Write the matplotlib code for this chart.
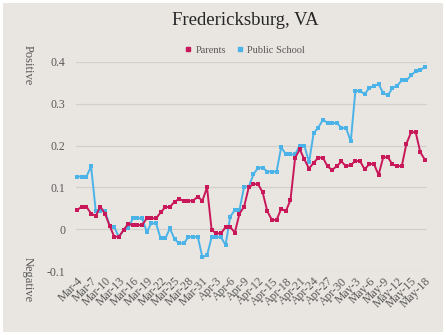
import numpy as np
import matplotlib
matplotlib.use("Agg")
import matplotlib.pyplot as plt
from matplotlib.lines import Line2D
import datetime as dt

# daily dates Mar-4 .. May-18
start = dt.date(2020, 3, 4)
dates = [start + dt.timedelta(days=k) for k in range(76)]
labels = ["%s-%d" % (d.strftime("%b"), d.day) for d in dates]

parents = [0.046, 0.054, 0.054, 0.037, 0.032, 0.054, 0.037, 0.008, -0.018, -0.018,
           -0.002, 0.013, 0.010, 0.010, 0.010, 0.026, 0.026, 0.026, 0.040, 0.053,
           0.053, 0.066, 0.072, 0.068, 0.068, 0.068, 0.078, 0.068, 0.100, -0.002,
           -0.010, -0.010, 0.005, 0.005, -0.008, 0.037, 0.054, 0.100, 0.108, 0.108,
           0.088, 0.043, 0.022, 0.022, 0.049, 0.043, 0.070, 0.171, 0.191, 0.167,
           0.145, 0.159, 0.171, 0.171, 0.150, 0.142, 0.151, 0.162, 0.150, 0.154,
           0.163, 0.163, 0.143, 0.156, 0.156, 0.130, 0.172, 0.172, 0.155, 0.151,
           0.151, 0.204, 0.232, 0.232, 0.184, 0.166]

public_school = [0.126, 0.126, 0.126, 0.150, 0.044, 0.044, 0.044, 0.008, 0.005, -0.019,
                 -0.002, 0.002, 0.026, 0.026, 0.026, -0.006, 0.014, 0.014, -0.022, -0.022,
                 0.002, -0.024, -0.034, -0.034, -0.018, -0.018, -0.018, -0.067, -0.062, -0.019,
                 -0.019, -0.019, -0.038, 0.030, 0.046, 0.046, 0.102, 0.102, 0.131, 0.147,
                 0.147, 0.138, 0.138, 0.138, 0.196, 0.179, 0.179, 0.179, 0.200, 0.200,
                 0.160, 0.230, 0.243, 0.262, 0.254, 0.254, 0.254, 0.242, 0.242, 0.210,
                 0.331, 0.331, 0.323, 0.338, 0.342, 0.347, 0.326, 0.320, 0.338, 0.343,
                 0.356, 0.356, 0.368, 0.378, 0.382, 0.387]

yticks = [-0.1, 0, 0.1, 0.2, 0.3, 0.4]
ytick_labels = ["-0.1", "0", "0.1", "0.2", "0.3", "0.4"]

bg = "#E9E5E0"
red = "#C8185A"
blue = "#4BB3E8"
grey = "#595959"

plt.rcParams['font.family'] = ['Liberation Serif', 'DejaVu Serif']

fig = plt.figure(figsize=(4.46, 3.35), dpi=100, facecolor=bg)
fig.patch.set_edgecolor("white")
fig.patch.set_linewidth(3)
ax = fig.add_axes([0.171, 0.191, 0.787, 0.624])
ax.set_facecolor(bg)

x = np.arange(len(dates))
ax.plot(x, public_school, color=blue, lw=1.4, marker="s", ms=2.2, mew=0, clip_on=False)
ax.plot(x, parents, color=red, lw=1.4, marker="s", ms=2.2, mew=0, clip_on=False)

ax.set_ylim(-0.1, 0.4)
ax.set_xlim(-0.2, 75.5)
ax.set_yticks(yticks)
ax.set_yticklabels(ytick_labels, fontsize=8.5, color=grey)
ax.yaxis.grid(True, color="#D3CFCA", lw=0.9)
ax.set_axisbelow(True)
ax.tick_params(axis="y", length=0, pad=8)

ax.set_xticks(x[::3])
ax.set_xticklabels(labels[::3], rotation=45, ha="right", rotation_mode="anchor",
                   fontsize=8.5, color=grey)
ax.tick_params(axis="x", length=0, pad=3)

for s in ax.spines.values():
    s.set_visible(False)

fig.text(0.55, 0.94, "Fredericksburg, VA", ha="center", va="center",
         fontsize=13.5, color="#262626")
fig.text(0.062, 0.805, "Positive", rotation=-90, ha="center", va="center",
         fontsize=9, color=grey)
fig.text(0.062, 0.165, "Negative", rotation=-90, ha="center", va="center",
         fontsize=9, color=grey)

handles = [Line2D([], [], color=red, marker="s", ls="", ms=3),
           Line2D([], [], color=blue, marker="s", ls="", ms=3)]
fig.legend(handles, ["Parents", "Public School"], loc="center",
           bbox_to_anchor=(0.549, 0.85), ncol=2, frameon=False, fontsize=7.5,
           handlelength=0.6, handletextpad=0.4, columnspacing=1.0, labelcolor=grey)

fig.savefig("out.png", dpi=100, facecolor=bg, edgecolor="white")
